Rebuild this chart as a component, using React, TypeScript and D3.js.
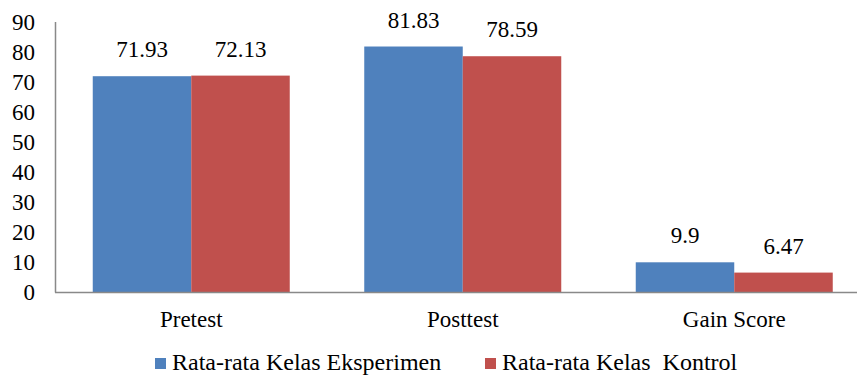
import React from "react";
import * as d3 from "d3";

const categories = ["Pretest", "Posttest", "Gain Score"];
const seriesNames = ["Rata-rata Kelas Eksperimen", "Rata-rata Kelas  Kontrol"];
const eksperimen = [71.93, 81.83, 9.9];
const kontrol = [72.13, 78.59, 6.47];
const valueLabels = [["71.93", "81.83", "9.9"], ["72.13", "78.59", "6.47"]];
const yTicks = [0, 10, 20, 30, 40, 50, 60, 70, 80, 90];
const colors = ["#4F81BD", "#C0504D"];

const ts = { fontFamily: '"Liberation Serif"', fontSize: 23 };

export default function App() {
  const W = 857, H = 376;
  const y = d3.scaleLinear().domain([0, 90]).range([292, 22]);
  const x = d3.scaleBand().domain(categories).range([55.5, 870]).paddingInner(0).paddingOuter(0);
  const barW = 98.5;
  const series = [eksperimen, kontrol];
  const legendX = [155, 485];
  return (
    <svg width={W} height={H} style={{ position: "absolute", left: 0, top: 0, background: "#fff" }}>
      {yTicks.map((t) => (
        <text key={t} x={35} y={y(t) + 7.5} textAnchor="end" style={ts} fill="#000">{t}</text>
      ))}
      {series.map((vals, si) =>
        vals.map((v, ci) => {
          const cx = (x(categories[ci]) as number) + x.bandwidth() / 2;
          const bx = si === 0 ? cx - barW : cx;
          return (
            <g key={`${si}-${ci}`}>
              <rect x={bx} y={y(v)} width={barW} height={y(0) - y(v)} fill={colors[si]} />
              <text x={bx + barW / 2} y={y(v) - 19} textAnchor="middle" style={ts} fill="#000">{valueLabels[si][ci]}</text>
            </g>
          );
        })
      )}
      <line x1={55.5} x2={55.5} y1={22} y2={292.5} stroke="#898989" strokeWidth={1.5} />
      <line x1={55} x2={W} y1={292.5} y2={292.5} stroke="#898989" strokeWidth={1.5} />
      {categories.map((c) => (
        <text key={c} x={(x(c) as number) + x.bandwidth() / 2} y={327} textAnchor="middle" style={ts} fill="#000">{c}</text>
      ))}
      {seriesNames.map((s, i) => {
        const lx = legendX[i];
        return (
          <g key={s}>
            <rect x={lx} y={358} width={11} height={11} fill={colors[i]} />
            <text x={lx + 17} y={370} fill="#000" style={{ ...ts, fontSize: 24, whiteSpace: "pre" }}>{s}</text>
          </g>
        );
      })}
    </svg>
  );
}
